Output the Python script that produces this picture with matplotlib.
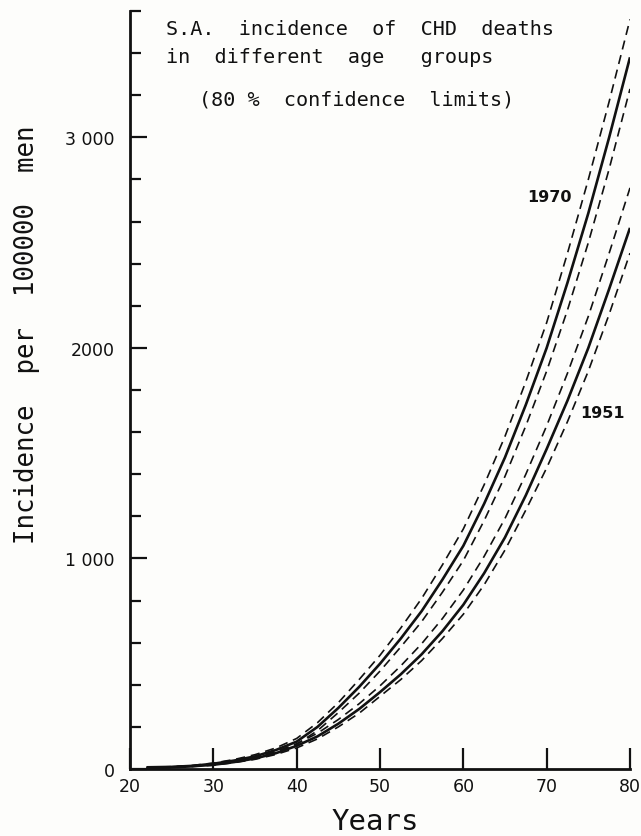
import matplotlib
matplotlib.use("Agg")
import matplotlib.pyplot as plt
from matplotlib.ticker import MultipleLocator, FixedLocator

# ---- data ----
years = [22, 25, 27.5, 30, 32.5, 35, 37.5, 40, 42.5, 45, 47.5, 50, 52.5, 55,
         57.5, 60, 62.5, 65, 67.5, 70, 72.5, 75, 77.5, 80]
inc_1970 = [8, 10, 15, 25, 40, 60, 90, 130, 200, 290, 390, 500, 620, 750,
            900, 1060, 1260, 1480, 1730, 2000, 2310, 2640, 3000, 3380]
upper_1970 = [8, 11, 17, 28, 45, 68, 100, 145, 220, 315, 425, 540, 670, 810,
              970, 1140, 1350, 1580, 1840, 2120, 2450, 2800, 3170, 3560]
lower_1970 = [8, 9, 13, 22, 36, 54, 80, 118, 182, 268, 360, 465, 580, 700,
              840, 990, 1180, 1390, 1630, 1890, 2180, 2500, 2850, 3230]
inc_1951 = [5, 8, 13, 20, 33, 50, 75, 110, 155, 215, 285, 365, 450, 545,
            655, 780, 930, 1100, 1300, 1520, 1750, 2000, 2280, 2570]
upper_1951 = [5, 9, 14, 22, 36, 55, 83, 120, 170, 235, 310, 395, 490, 595,
              715, 850, 1010, 1190, 1400, 1630, 1880, 2150, 2450, 2760]
lower_1951 = [5, 7, 12, 18, 30, 46, 69, 100, 143, 200, 265, 345, 425, 515,
              620, 735, 875, 1040, 1230, 1430, 1650, 1890, 2160, 2450]

x_ticks = [20, 30, 40, 50, 60, 70, 80]
x_tick_labels = ["20", "30", "40", "50", "60", "70", "80"]
y_ticks = [0, 1000, 2000, 3000]
y_tick_labels = ["0", "1 000", "2000", "3 000"]

title_lines = ["S.A.  incidence  of  CHD  deaths", "in  different  age   groups"]
subtitle = "(80 %  confidence  limits)"
y_label = "Incidence  per  100000  men"
x_label = "Years"

W, H = 641, 837
fig = plt.figure(figsize=(W / 100, H / 100), dpi=100)
bg = "#fdfdfb"
fig.patch.set_facecolor(bg)
ax = fig.add_axes([130 / W, 1 - 770 / H, (630 - 130) / W, (770 - 12) / H])
ax.set_facecolor(bg)

ink = "#111111"
word_font = ["DejaVu Sans Mono"]
num_font = ["DejaVu Sans"]

for v, lo, hi in [(inc_1970, lower_1970, upper_1970), (inc_1951, lower_1951, upper_1951)]:
    ax.plot(years, v, color=ink, lw=1.9, solid_capstyle="butt")
    ax.plot(years, hi, color=ink, lw=1.2, dashes=(5.5, 3.5))
    ax.plot(years, lo, color=ink, lw=1.2, dashes=(5.5, 3.5))

ax.set_xlim(20, 80)
ax.set_ylim(0, 3600)
for s in ["top", "right"]:
    ax.spines[s].set_visible(False)
for s in ["left", "bottom"]:
    ax.spines[s].set_linewidth(2.0)
    ax.spines[s].set_color(ink)

ax.xaxis.set_major_locator(FixedLocator(x_ticks))
ax.set_xticklabels(x_tick_labels, family=num_font)
ax.yaxis.set_major_locator(FixedLocator(y_ticks))
ax.set_yticklabels(y_tick_labels, family=num_font)
ax.yaxis.set_minor_locator(MultipleLocator(200))
ax.tick_params(axis="x", direction="in", length=15, width=1.6, color=ink,
               labelsize=12.5, pad=6, labelcolor=ink)
ax.tick_params(axis="y", which="major", direction="in", length=12, width=1.6,
               color=ink, labelsize=12.5, pad=11, labelcolor=ink)
ax.tick_params(axis="y", which="minor", direction="in", length=8, width=1.6, color=ink)

ax.text(70.3, 2721, "1970", fontsize=11.5, ha="center", va="center", color=ink,
        family=num_font, fontweight="semibold")
ax.text(76.7, 1695, "1951", fontsize=11.5, ha="center", va="center", color=ink,
        family=num_font, fontweight="semibold")

fig.text(166 / W, 1 - 35 / H, title_lines[0], fontsize=14.5, ha="left", va="baseline",
         color=ink, family=word_font)
fig.text(166 / W, 1 - 63 / H, title_lines[1], fontsize=14.5, ha="left", va="baseline",
         color=ink, family=word_font)
fig.text(199 / W, 1 - 105 / H, subtitle, fontsize=14.5, ha="left", va="baseline",
         color=ink, family=word_font)

fig.text(27 / W, 1 - 335 / H, y_label, fontsize=18.5, rotation=90, ha="center",
         va="center", color=ink, family=word_font)
fig.text(375 / W, 1 - 830 / H, x_label, fontsize=21, ha="center", va="baseline",
         color=ink, family=word_font)

fig.savefig("out.png", dpi=100, facecolor=fig.get_facecolor())
